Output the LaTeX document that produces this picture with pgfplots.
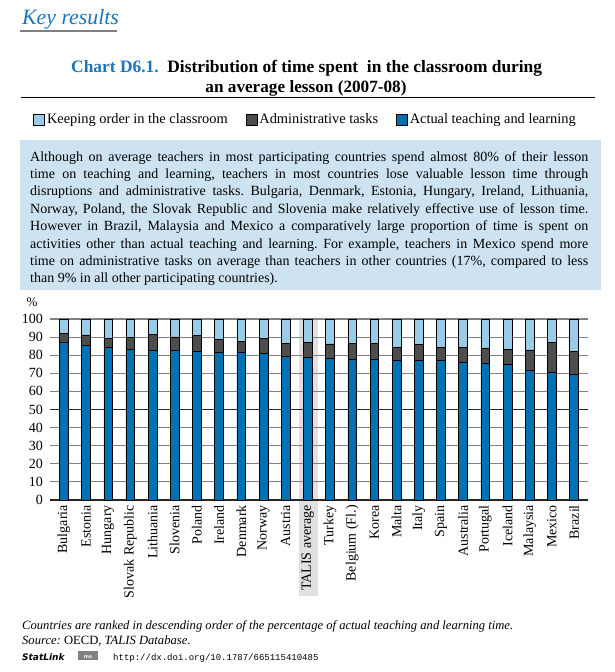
\documentclass[border=0pt]{standalone}
\usepackage{fontspec}
\setmainfont{Liberation Serif}
\setmonofont{Liberation Mono}
\newfontfamily\statfont{DejaVu Sans}
\usepackage{pgfplots}
\pgfplotsset{compat=1.18}
\usepackage{pgfplotstable}
\definecolor{teach}{RGB}{0,114,180}
\definecolor{admin}{RGB}{77,77,77}
\definecolor{order}{RGB}{153,204,232}
\definecolor{boxblue}{RGB}{205,227,241}
\definecolor{titleblue}{RGB}{28,117,188}
\definecolor{gridgray}{RGB}{128,128,128}
\definecolor{bandgray}{RGB}{224,224,224}

\pgfplotstableread{
x teach admin order
0 87.1 5.0 7.9
1 85.5 5.7 8.8
2 84.3 5.2 10.5
3 83.2 6.7 10.1
4 82.7 8.8 8.5
5 82.7 7.4 9.9
6 82.3 8.7 9.0
7 81.6 7.2 11.2
8 81.6 6.1 12.3
9 81.0 8.3 10.7
10 79.2 7.5 13.3
11 78.8 8.3 12.9
12 78.1 8.1 13.8
13 77.7 8.9 13.4
14 77.5 8.9 13.6
15 77.0 7.3 15.7
16 77.0 8.9 14.1
17 77.0 7.3 15.7
18 76.2 8.1 15.7
19 75.7 8.3 16.0
20 75.0 8.4 16.6
21 71.8 11.2 17.0
22 70.5 16.6 12.9
23 69.4 12.9 17.7
}\data

\newcommand{\fs}[1]{\fontsize{#1}{#1}\selectfont}

\begin{document}
\frenchspacing
\begin{tikzpicture}[x=1pt,y=1pt]
\path[use as bounding box] (0,0) rectangle (614,-672);
% header
\node[anchor=base west, inner sep=0pt, text=titleblue] at (22,-24) {\fs{21.8}\itshape Key results};
\draw[gridgray, line width=1.5pt] (20,-31) -- (117,-31);
\node[anchor=base west, inner sep=0pt] at (71,-72) {\fs{17.4}\bfseries\textcolor{titleblue}{Chart D6.1.}\ \ Distribution of time spent\ \ in the classroom during};
\node[anchor=base, inner sep=0pt] at (306,-92) {\fs{17.2}\bfseries an average lesson (2007-08)};
\draw[line width=1pt] (21,-97) -- (595,-97);
% text box
\fill[boxblue] (20,-140) rectangle (601,-290);
\begin{scope}[every node/.style={anchor=base west, inner sep=0pt, font=\fs{14}}]
\node at (30,-161.0) {\makebox[558pt][s]{Although on average teachers in most participating countries spend almost 80\% of their lesson}};
\node at (30,-178.4) {\makebox[558pt][s]{time on teaching and learning, teachers in most countries lose valuable lesson time through}};
\node at (30,-195.8) {\makebox[558pt][s]{disruptions and administrative tasks. Bulgaria, Denmark, Estonia, Hungary, Ireland, Lithuania,}};
\node at (30,-213.2) {\makebox[558pt][s]{Norway, Poland, the Slovak Republic and Slovenia make relatively effective use of lesson time.}};
\node at (30,-230.6) {\makebox[558pt][s]{However in Brazil, Malaysia and Mexico a comparatively large proportion of time is spent on}};
\node at (30,-248.0) {\makebox[558pt][s]{activities other than actual teaching and learning. For example, teachers in Mexico spend more}};
\node at (30,-265.4) {\makebox[558pt][s]{time on administrative tasks on average than teachers in other countries (17\%, compared to less}};
\node at (30,-282.8) {than 9\% in all other participating countries).};
\end{scope}
% highlight band for TALIS average
\fill[bandgray] (298.5,-319) rectangle (318,-596);
\node[anchor=base, inner sep=0pt] at (32,-306) {\fs{13}\%};
\begin{axis}[
  at={(50pt,-500pt)}, anchor=south west,
  scale only axis, width=538pt, height=181pt,
  xmin=-0.62, xmax=23.63, ymin=0, ymax=100,
  ybar stacked, bar width=8.7pt,
  axis line style={draw=none},
  clip=false,
  ytick={0,10,...,100},
  ymajorgrids, grid style={gridgray, line width=1.1pt},
  extra y ticks={0,50}, extra y tick labels={},
  extra y tick style={grid style={black!85, line width=1.1pt}},
  major tick length=0pt,
  xtick={0,...,23},
  xticklabels={Bulgaria,Estonia,Hungary,Slovak Republic,Lithuania,Slovenia,Poland,Ireland,Denmark,Norway,Austria,TALIS average,Turkey,Belgium (Fl.),Korea,Malta,Italy,Spain,Australia,Portugal,Iceland,Malaysia,Mexico,Brazil},
  /pgf/number format/assume math mode=true,
  tick label style={font=\fs{14}, inner sep=0pt},
  xticklabel style={rotate=90, anchor=east},
  xticklabel shift=5pt,
  yticklabel shift=7pt,
  legend style={draw=none, fill=none, at={(axis description cs:0.475,2.102)}, anchor=center,
    legend columns=3, font=\fs{14.4}, /tikz/every even column/.append style={column sep=16pt}},
  legend image code/.code={\draw[#1, draw=black, line width=0.6pt] (0pt,-5.5pt) rectangle (11pt,5.5pt);},
  reverse legend,
]
\addplot[fill=teach, draw=black, line width=0.5pt] table[x=x,y=teach]{\data};
\addplot[fill=admin, draw=black, line width=0.5pt] table[x=x,y=admin]{\data};
\addplot[fill=order, draw=black, line width=0.5pt] table[x=x,y=order]{\data};
\legend{Actual teaching and learning, Administrative tasks, Keeping order in the classroom}
\end{axis}
% footer
\node[anchor=base west, inner sep=0pt] at (22,-629) {\fs{12.6}\itshape Countries are ranked in descending order of the percentage of actual teaching and learning time.};
\node[anchor=base west, inner sep=0pt] at (22,-644) {\fs{12.6}\textit{Source:} OECD, \textit{TALIS Database}.};
\node[anchor=base west, inner sep=0pt] at (22,-660) {\statfont\fs{9}\bfseries\itshape StatLink};
\fill[gridgray] (78,-651) rectangle (98,-660);
\node[anchor=base, inner sep=0pt, text=white] at (88,-658.5) {\statfont\fs{5}\bfseries ms};
\node[anchor=base west, inner sep=0pt] at (113,-660) {\ttfamily\fs{9}http://dx.doi.org/10.1787/665115410485};
\end{tikzpicture}
\end{document}
